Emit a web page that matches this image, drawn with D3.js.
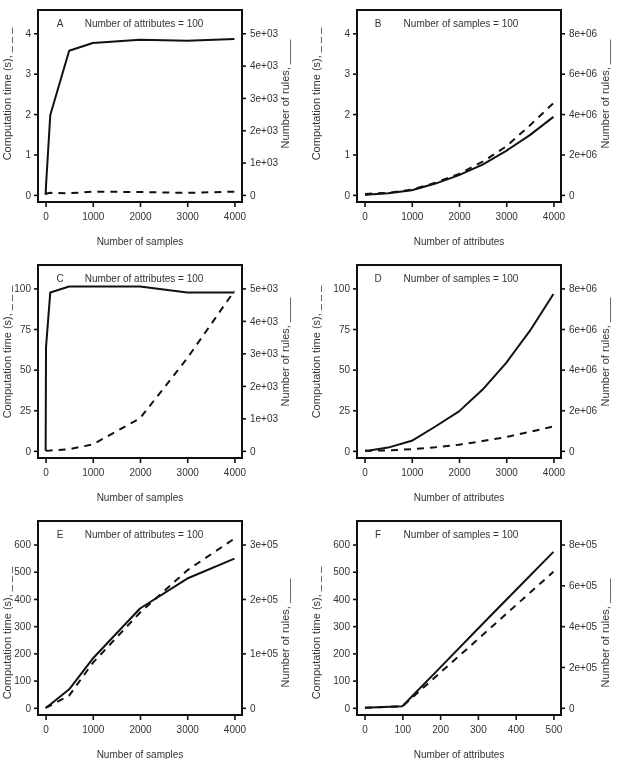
<!DOCTYPE html>
<html>
<head>
<meta charset="utf-8">
<script src="https://cdn.jsdelivr.net/npm/d3@7"></script>
<style>
  body { margin: 0; background: #fff; }
  svg { display: block; will-change: transform; }
  text { font-family: "Liberation Sans", Arial, sans-serif; fill: #333; }
</style>
</head>
<body>
<div id="chart"></div>
<script>
// x values
var samplesX = [2, 10, 100, 500, 1000, 2000, 3000, 4000];
var attrX = [10, 100, 500, 1000, 1500, 2000, 2500, 3000, 3500, 4000];
var attrXF = [1, 100, 200, 300, 400, 500];

// computation time (s), dashed, left axis
var timeA = [0.02, 0.03, 0.05, 0.04, 0.08, 0.07, 0.05, 0.08];
var timeB = [0.02, 0.03, 0.05, 0.13, 0.3, 0.52, 0.82, 1.2, 1.72, 2.27];
var timeC = [0, 0.1, 0.2, 1, 4, 20, 57, 98.5];
var timeD = [0, 0.05, 0.3, 1, 2.2, 3.8, 6, 8.5, 11.7, 15];
var timeE = [0, 0.5, 8, 45, 165, 350, 505, 622];
var timeF = [0, 5, 129, 252, 376, 500];

// number of rules, solid, right axis
var rulesA = [0, 300, 2470, 4460, 4700, 4800, 4770, 4820];
var rulesB = [0, 20000, 80000, 230000, 560000, 980000, 1500000, 2180000, 2960000, 3860000];
var rulesC = [0, 3200, 4876, 5060, 5060, 5060, 4876, 4876];
var rulesD = [0, 16000, 160000, 496000, 1200000, 1944000, 3016000, 4336000, 5904000, 7720000];
var rulesE = [0, 300, 6000, 34000, 90500, 182500, 237500, 274000];
var rulesF = [0, 8000, 197000, 387000, 576000, 764000];

// ticks
var ticksX4000 = [0, 1000, 2000, 3000, 4000];
var ticksXF = [0, 100, 200, 300, 400, 500];
var ticksSec4 = [0, 1, 2, 3, 4];
var ticksSec100 = [0, 25, 50, 75, 100];
var ticksSec600 = [0, 100, 200, 300, 400, 500, 600];
var ticksRules5e3 = [0, 1000, 2000, 3000, 4000, 5000];
var ticksRules8e6 = [0, 2e6, 4e6, 6e6, 8e6];
var ticksRules3e5 = [0, 1e5, 2e5, 3e5];
var ticksRules8e5 = [0, 2e5, 4e5, 6e5, 8e5];

var W = 621, H = 759;
var fs = 10, fsTitle = 11;

var cols = [
  {left: 38, right: 242, ytitleX: 11, rtitleX: 289, letterX: 60, noteX: 144},
  {left: 357, right: 561, ytitleX: 320, rtitleX: 609, letterX: 378, noteX: 461}
];
var rows = [
  {top: 10, bottom: 202, titleY: 94},
  {top: 265, bottom: 458, titleY: 352},
  {top: 521, bottom: 715, titleY: 633}
];

var panels = [
  {letter: "A", note: "Number of attributes = 100", xt: "Number of samples", x: samplesX, t: timeA, r: rulesA,
   xd: [-160, 4160], yd: [-0.176, 4.576], rd: [-220, 5720], xtk: ticksX4000, ytk: ticksSec4, rtk: ticksRules5e3, row: 0, col: 0},
  {letter: "B", note: "Number of samples = 100", xt: "Number of attributes", x: attrX, t: timeB, r: rulesB,
   xd: [-160, 4160], yd: [-0.176, 4.576], rd: [-352000, 9152000], xtk: ticksX4000, ytk: ticksSec4, rtk: ticksRules8e6, row: 0, col: 1},
  {letter: "C", note: "Number of attributes = 100", xt: "Number of samples", x: samplesX, t: timeC, r: rulesC,
   xd: [-160, 4160], yd: [-4.4, 114.4], rd: [-220, 5720], xtk: ticksX4000, ytk: ticksSec100, rtk: ticksRules5e3, row: 1, col: 0},
  {letter: "D", note: "Number of samples = 100", xt: "Number of attributes", x: attrX, t: timeD, r: rulesD,
   xd: [-160, 4160], yd: [-4.4, 114.4], rd: [-352000, 9152000], xtk: ticksX4000, ytk: ticksSec100, rtk: ticksRules8e6, row: 1, col: 1},
  {letter: "E", note: "Number of attributes = 100", xt: "Number of samples", x: samplesX, t: timeE, r: rulesE,
   xd: [-160, 4160], yd: [-26.4, 686.4], rd: [-13200, 343200], xtk: ticksX4000, ytk: ticksSec600, rtk: ticksRules3e5, row: 2, col: 0},
  {letter: "F", note: "Number of samples = 100", xt: "Number of attributes", x: attrXF, t: timeF, r: rulesF,
   xd: [-20, 520], yd: [-26.4, 686.4], rd: [-35200, 915200], xtk: ticksXF, ytk: ticksSec600, rtk: ticksRules8e5, row: 2, col: 1}
];

function fmtRules(v) {
  if (v === 0) return "0";
  return v.toExponential(0).replace(/e\+(\d)$/, "e+0$1");
}

var svg = d3.select("#chart").append("svg")
  .attr("width", W).attr("height", H);

panels.forEach(function(p) {
  var c = cols[p.col], rw = rows[p.row];
  var x = d3.scaleLinear().domain(p.xd).range([c.left, c.right]);
  var y = d3.scaleLinear().domain(p.yd).range([rw.bottom, rw.top]);
  var yr = d3.scaleLinear().domain(p.rd).range([rw.bottom, rw.top]);

  var g = svg.append("g");

  // axes
  var ax = g.append("g").attr("transform", "translate(0," + rw.bottom + ")")
    .call(d3.axisBottom(x).tickValues(p.xtk).tickSize(5).tickPadding(6).tickFormat(d3.format("d")));
  var ay = g.append("g").attr("transform", "translate(" + c.left + ",0)")
    .call(d3.axisLeft(y).tickValues(p.ytk).tickSize(4).tickPadding(3).tickFormat(d3.format("d")));
  var ar = g.append("g").attr("transform", "translate(" + c.right + ",0)")
    .call(d3.axisRight(yr).tickValues(p.rtk).tickSize(4).tickPadding(4).tickFormat(fmtRules));
  [ax, ay, ar].forEach(function(a) {
    a.select(".domain").remove();
    a.selectAll(".tick line").attr("stroke", "#111").attr("stroke-width", 1.6);
    a.selectAll(".tick text").attr("font-size", fs).attr("fill", "#333")
      .attr("font-family", "Liberation Sans, Arial, sans-serif");
  });

  // lines
  var pts = p.x.map(function(v, i) { return {x: v, t: p.t[i], r: p.r[i]}; });
  g.append("path").datum(pts)
    .attr("d", d3.line().x(function(d) { return x(d.x); }).y(function(d) { return yr(d.r); }))
    .attr("fill", "none").attr("stroke", "#111").attr("stroke-width", 2)
    .attr("stroke-linejoin", "round");
  g.append("path").datum(pts)
    .attr("d", d3.line().x(function(d) { return x(d.x); }).y(function(d) { return y(d.t); }))
    .attr("fill", "none").attr("stroke", "#111").attr("stroke-width", 2)
    .attr("stroke-dasharray", "7,6");

  // box
  g.append("rect")
    .attr("x", c.left).attr("y", rw.top)
    .attr("width", c.right - c.left).attr("height", rw.bottom - rw.top)
    .attr("fill", "none").attr("stroke", "#111").attr("stroke-width", 2);

  // annotations
  g.append("text").attr("x", c.letterX).attr("y", rw.top + 17)
    .attr("text-anchor", "middle").attr("font-size", fs).text(p.letter);
  g.append("text").attr("x", c.noteX).attr("y", rw.top + 17)
    .attr("text-anchor", "middle").attr("font-size", fs).text(p.note);

  // titles
  g.append("text").attr("x", (c.left + c.right) / 2).attr("y", rw.bottom + 43)
    .attr("text-anchor", "middle").attr("font-size", fs).text(p.xt);
  g.append("text")
    .attr("transform", "translate(" + c.ytitleX + "," + rw.titleY + ") rotate(-90)")
    .attr("text-anchor", "middle").attr("font-size", fsTitle).text("Computation time (s), _ _ _");
  g.append("text")
    .attr("transform", "translate(" + c.rtitleX + "," + rw.titleY + ") rotate(-90)")
    .attr("text-anchor", "middle").attr("font-size", fsTitle).text("Number of rules, ____");
});
</script>
</body>
</html>
